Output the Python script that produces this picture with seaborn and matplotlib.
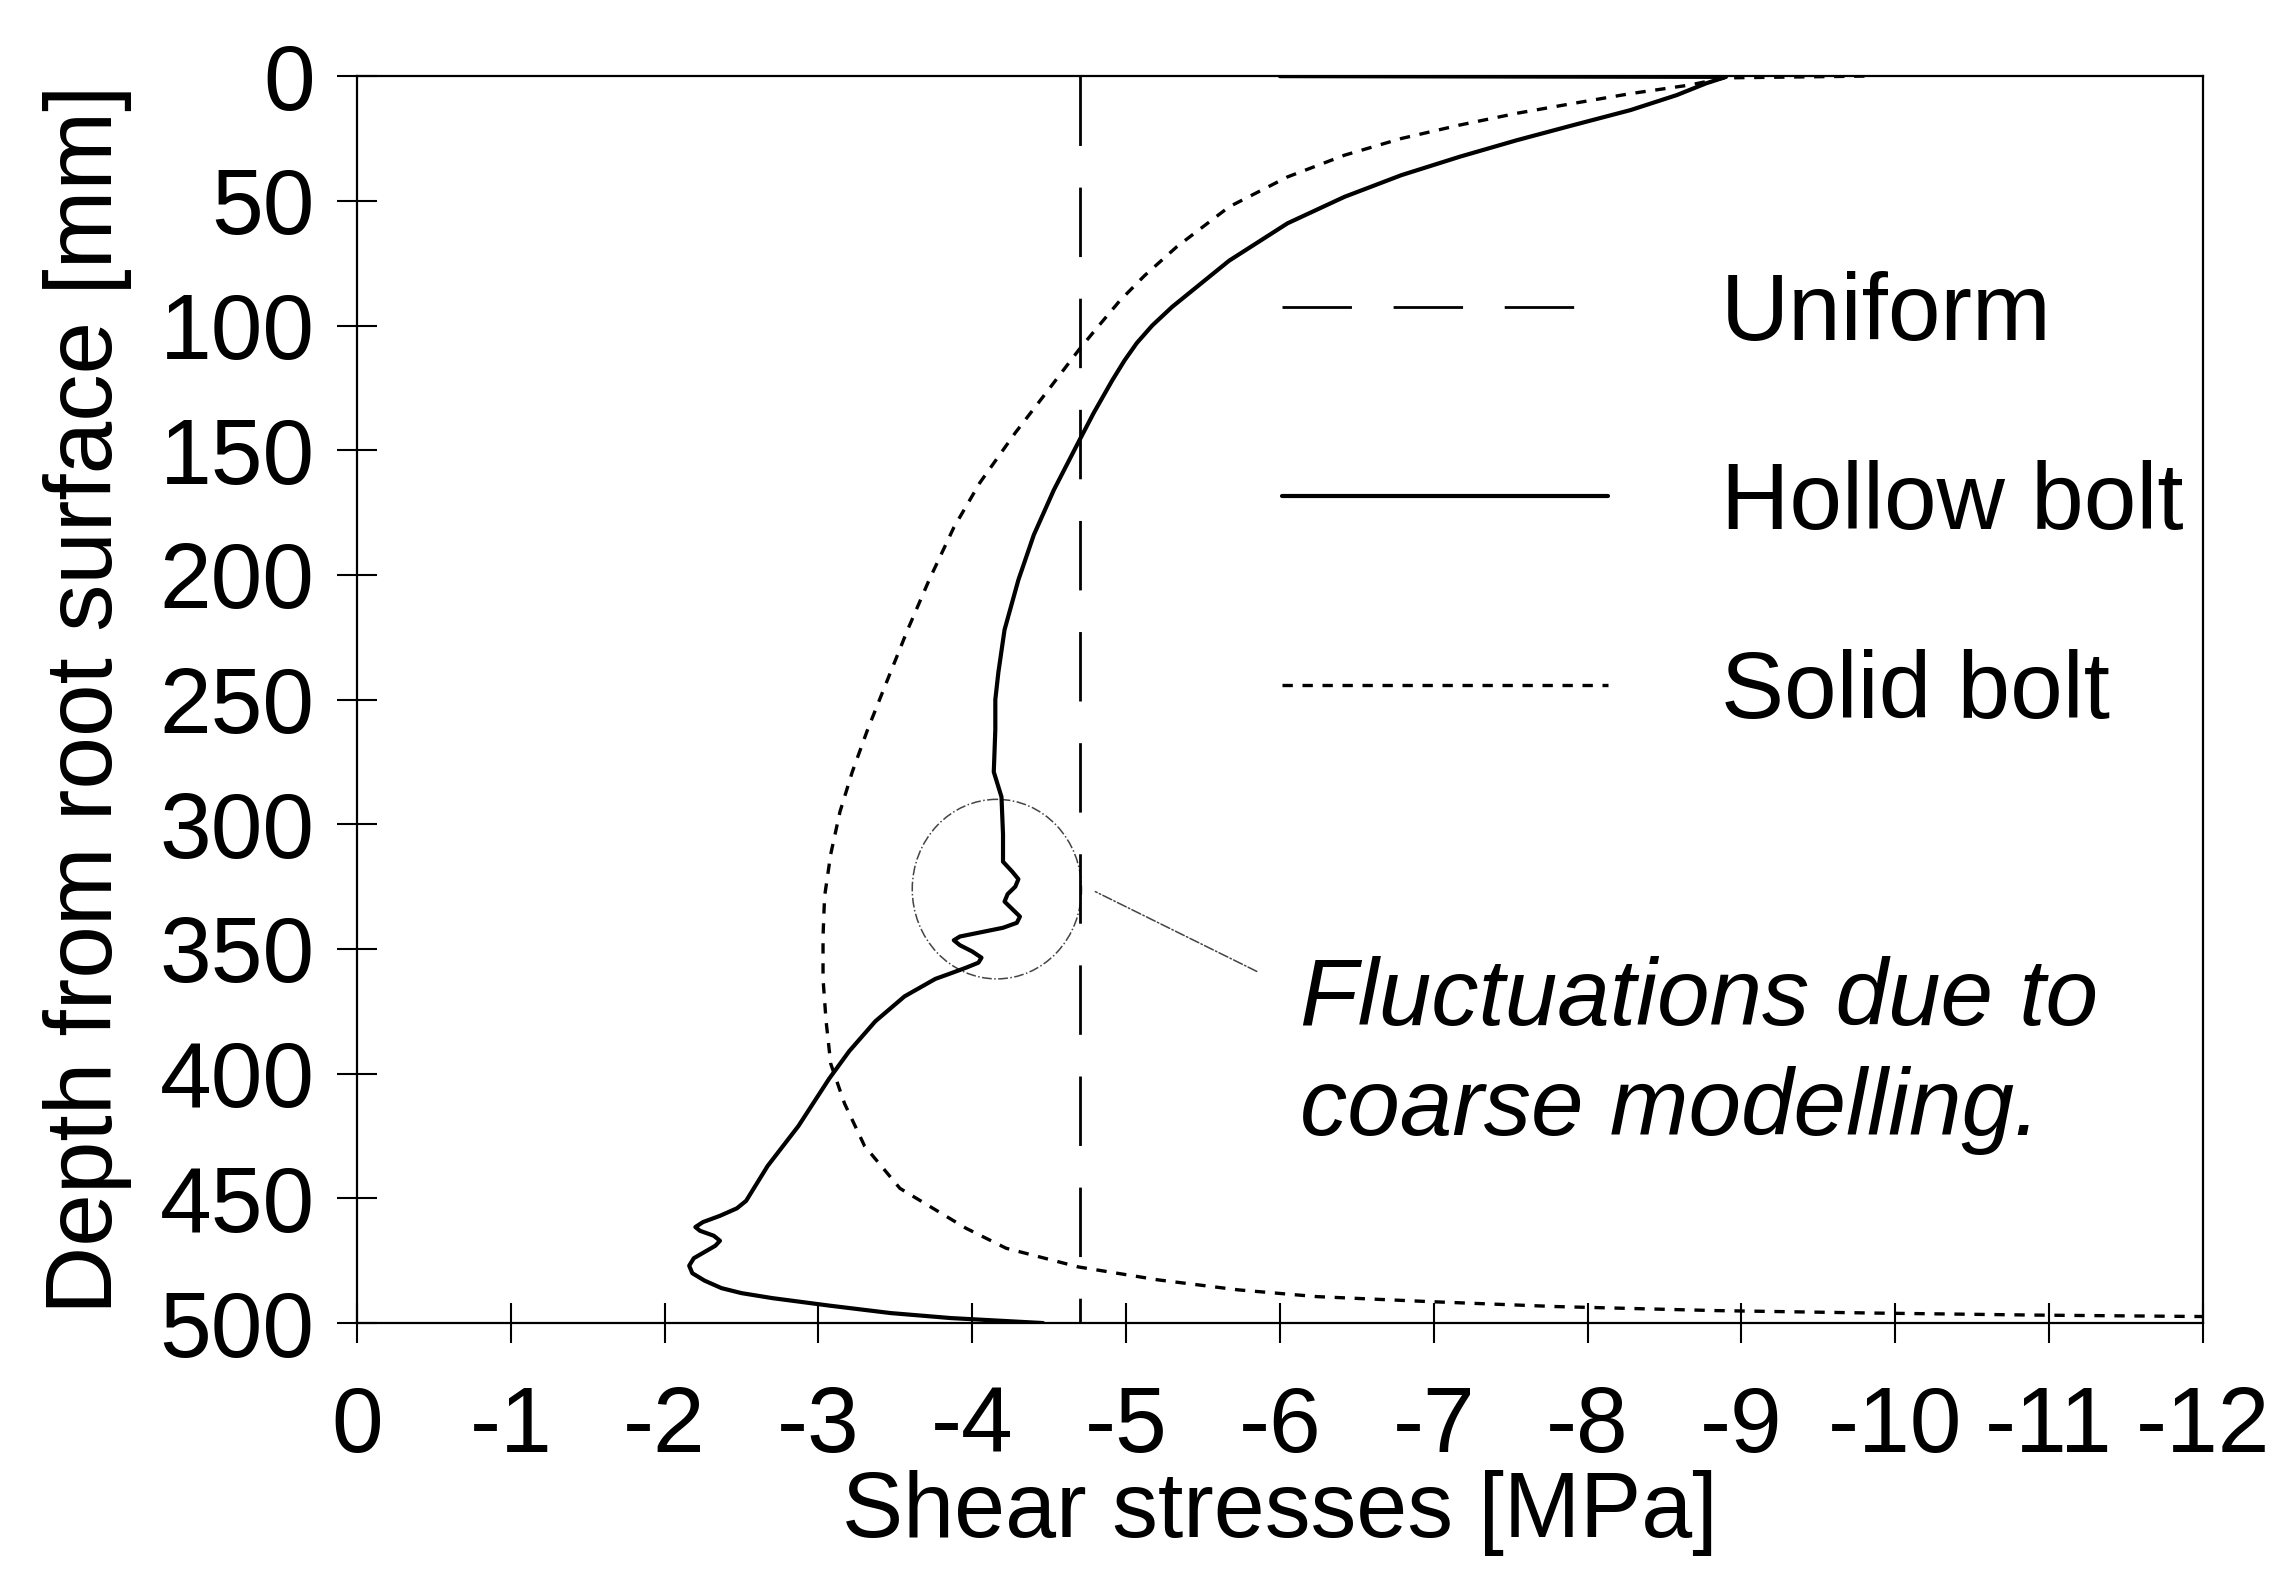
import matplotlib
matplotlib.use("Agg")
import matplotlib.pyplot as plt
from matplotlib.patches import Ellipse
import seaborn as sns
import pandas as pd

# Shear stress profiles along the bolt (depth in mm, stress in MPa)
hollow_depth = [0.0, 0.3, 2.9, 7.6, 13.6, 19.6, 25.7, 32.3, 39.7, 48.4, 59.0,
                74.0, 92.5, 100.0, 107.0, 114.0, 122.0, 135.0, 148.0, 166.0,
                184.0, 202.0, 222.0, 239.0, 250.0, 262.0, 279.0, 289.0, 304.0,
                315.0, 319.0, 322.0, 325.0, 328.0, 331.0, 334.0, 337.0, 339.5,
                341.5, 343.0, 345.0, 346.5, 348.5, 351.0, 353.5, 355.5, 357.5,
                360.0, 362.0, 369.0, 379.0, 391.0, 402.0, 421.0, 437.0, 451.0,
                454.0, 457.0, 459.5, 461.5, 463.0, 465.0, 467.0, 469.0, 471.5,
                474.0, 477.0, 480.0, 483.0, 486.0, 488.0, 490.0, 493.0, 496.0,
                498.0, 500.0]
hollow_stress = [-6.0, -8.9, -8.77, -8.58, -8.28, -7.91, -7.54, -7.17, -6.79,
                 -6.42, -6.05, -5.67, -5.30, -5.17, -5.07, -4.99, -4.91, -4.79,
                 -4.68, -4.53, -4.40, -4.30, -4.21, -4.17, -4.15, -4.15, -4.14,
                 -4.19, -4.20, -4.20, -4.26, -4.30, -4.28, -4.23, -4.21, -4.26,
                 -4.31, -4.29, -4.20, -4.08, -3.92, -3.88, -3.92, -4.00, -4.06,
                 -4.04, -3.96, -3.85, -3.76, -3.56, -3.37, -3.20, -3.07, -2.87,
                 -2.67, -2.53, -2.47, -2.36, -2.25, -2.20, -2.23, -2.32, -2.36,
                 -2.33, -2.26, -2.19, -2.16, -2.18, -2.26, -2.37, -2.50, -2.70,
                 -3.07, -3.47, -3.86, -4.46]

solid_depth = [0.0, 0.7, 3.6, 7.0, 10.9, 14.9, 19.6, 25.0, 31.7, 40.4, 52.4,
               68.4, 80.0, 90.0, 101.0, 110.0, 127.0, 143.0, 163.0, 181.0,
               202.0, 222.0, 245.0, 262.0, 279.0, 295.0, 312.0, 329.0, 345.0,
               362.0, 379.0, 396.0, 412.0, 429.0, 446.0, 462.0, 470.0, 477.5,
               482.7, 486.7, 489.4, 491.4, 493.4, 495.0, 496.0, 496.8, 497.5]
solid_stress = [-9.8, -8.89, -8.66, -8.28, -7.91, -7.54, -7.17, -6.79, -6.42,
                -6.05, -5.67, -5.33, -5.12, -4.96, -4.81, -4.69, -4.48, -4.28,
                -4.05, -3.88, -3.72, -3.58, -3.43, -3.32, -3.22, -3.14, -3.08,
                -3.04, -3.03, -3.03, -3.05, -3.08, -3.17, -3.30, -3.53, -3.96,
                -4.22, -4.69, -5.21, -5.73, -6.24, -6.97, -7.80, -8.83, -9.87,
                -10.9, -12.2]

uniform_depth = [0.0, 500.0]
uniform_stress = [-4.7, -4.7]

x_ticks = [0, -1, -2, -3, -4, -5, -6, -7, -8, -9, -10, -11, -12]
x_tick_labels = ["0", "-1", "-2", "-3", "-4", "-5", "-6", "-7", "-8", "-9",
                 "-10", "-11", "-12"]
y_ticks = [0, 50, 100, 150, 200, 250, 300, 350, 400, 450, 500]
y_tick_labels = [str(v) for v in y_ticks]

sns.set_style("ticks")
plt.rcParams["font.family"] = ["Liberation Sans", "DejaVu Sans"]
plt.rcParams["axes.unicode_minus"] = False
plt.rcParams["text.color"] = "black"
plt.rcParams["axes.labelcolor"] = "black"
plt.rcParams["xtick.color"] = "black"
plt.rcParams["ytick.color"] = "black"

fig = plt.figure(figsize=(22.88, 15.73), dpi=100)
ax = fig.add_axes([0.156, 0.1589, 0.8068, 0.7927])

uniform_df = pd.DataFrame({"stress": uniform_stress, "depth": uniform_depth})
hollow_df = pd.DataFrame({"stress": hollow_stress, "depth": hollow_depth})
solid_df = pd.DataFrame({"stress": solid_stress, "depth": solid_depth})

sns.lineplot(data=uniform_df, x="stress", y="depth", sort=False, estimator=None,
             color="black", lw=2.0, ax=ax, label="Uniform")
sns.lineplot(data=hollow_df, x="stress", y="depth", sort=False, estimator=None,
             color="black", lw=3.0, ax=ax, label="Hollow bolt")
sns.lineplot(data=solid_df, x="stress", y="depth", sort=False, estimator=None,
             color="black", lw=2.4, ax=ax, label="Solid bolt")

lines = ax.get_lines()
lines[0].set_dashes((25, 15))
lines[2].set_dashes((3.1, 2.9))

ax.set_xlim(0, -12)
ax.set_ylim(500, 0)
ax.set_xticks(x_ticks)
ax.set_xticklabels(x_tick_labels)
ax.set_yticks(y_ticks)
ax.set_yticklabels(y_tick_labels)

ax.tick_params(axis="both", direction="inout", length=29, width=1.5,
               colors="black", labelsize=67)
ax.tick_params(axis="x", pad=30)
ax.tick_params(axis="y", pad=16)
for side in ["left", "right", "top", "bottom"]:
    ax.spines[side].set_visible(True)
    ax.spines[side].set_linewidth(1.6)
    ax.spines[side].set_color("black")

ax.set_xlabel("Shear stresses [MPa]", fontsize=66, color="black")
ax.set_ylabel("Depth from root surface [mm]", fontsize=68, color="black")
ax.xaxis.set_label_coords(0.5, -0.118)
ax.yaxis.set_label_coords(-0.122, 0.5)

leg = ax.legend(loc="upper left", bbox_to_anchor=(0.501, 0.844), frameon=False,
                fontsize=68, handlelength=3.45, handletextpad=1.2,
                labelspacing=1.06, borderpad=0, borderaxespad=0)
for h in leg.get_lines():
    h.set_color("black")
for t in leg.get_texts():
    t.set_color("black")

# Circled region with the numerical fluctuations and its note
ax.add_patch(Ellipse((-4.16, 326), width=1.1, height=72, fill=False,
                     linestyle="-.", lw=1.1, edgecolor="#444444"))
ax.annotate("", xy=(-4.8, 327), xytext=(-5.85, 359),
            arrowprops=dict(arrowstyle="-", linestyle="-.", lw=1.1,
                            color="#444444", shrinkA=0, shrinkB=0))
ax.text(-6.13, 380.5, "Fluctuations due to", fontsize=68, style="italic",
        ha="left", va="baseline", color="black")
ax.text(-6.13, 424.6, "coarse modelling.", fontsize=68, style="italic",
        ha="left", va="baseline", color="black")

fig.savefig("out.png", dpi=100, facecolor="white")
